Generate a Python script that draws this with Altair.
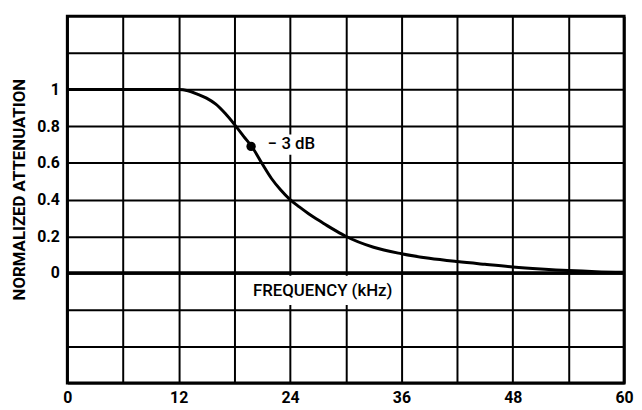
import altair as alt
import pandas as pd

# Curve data
freq_khz = [0, 12, 13, 14, 15, 16, 17, 18, 19, 20, 21, 22, 23, 24, 25, 26, 27,
            28, 29, 30, 33, 36, 39, 42, 45, 48, 51, 54, 57, 60]
atten = [1, 1, 0.993, 0.975, 0.953, 0.92, 0.87, 0.81, 0.745, 0.68, 0.595,
         0.515, 0.452, 0.40, 0.36, 0.323, 0.29, 0.258, 0.228, 0.20, 0.14,
         0.105, 0.08, 0.062, 0.047, 0.033, 0.022, 0.013, 0.007, 0.004]

# Grid / tick values
x_grid = [0, 6, 12, 18, 24, 30, 36, 42, 48, 54, 60]
y_grid = [-0.6, -0.4, -0.2, 0, 0.2, 0.4, 0.6, 0.8, 1, 1.2, 1.4]

# -3 dB point
pt_freq = [19.8]
pt_att = [0.69]

# Annotations
ann_text = ["FREQUENCY (kHz)", "\u2212 3 dB"]
ann_x = [20.0, 21.6]
ann_y = [-0.10, 0.70]
box_x1 = [18.4, 21.6]
box_x2 = [35.6, 27.0]
box_y1 = [-0.015, 0.645]
box_y2 = [-0.175, 0.755]

FONT = "Roboto, Liberation Sans, sans-serif"

curve = pd.DataFrame({"f": freq_khz, "a": atten})
pts = pd.DataFrame({"f": pt_freq, "a": pt_att})
ann = pd.DataFrame({"t": ann_text, "f": ann_x, "a": ann_y,
                    "x1": box_x1, "x2": box_x2, "y1": box_y1, "y2": box_y2})
zero = pd.DataFrame({"a": [0]})

xscale = alt.Scale(domain=[0, 60], nice=False, zero=False)
yscale = alt.Scale(domain=[-0.6, 1.4], nice=False, zero=False)

xaxis = alt.Axis(values=x_grid, tickCount=len(x_grid), title="", grid=True,
                 gridColor="black", gridWidth=2, gridOpacity=1, ticks=False,
                 domain=False, labelOverlap=False,
                 labelExpr="datum.value % 12 == 0 ? datum.label : ''",
                 labelFont=FONT, labelFontSize=16, labelFontWeight="bold",
                 labelColor="black", labelPadding=7, labelFlush=False)
yaxis = alt.Axis(values=y_grid, tickCount=len(y_grid),
                 title="NORMALIZED ATTENUATION", grid=True,
                 gridColor="black", gridWidth=2, gridOpacity=1, ticks=False,
                 domain=False, labelOverlap=False,
                 labelExpr="(datum.value > -0.01 && datum.value < 1.01) ? format(datum.value, '~g') : ''",
                 labelFont=FONT, labelFontSize=16, labelFontWeight="bold",
                 labelColor="black", labelPadding=8,
                 titleFont=FONT, titleFontSize=17, titleFontWeight="bold",
                 titleColor="black", titleX=-48, titleY=175,
                 titleBaseline="middle", titleAngle=270)

line = alt.Chart(curve).mark_line(color="black", strokeWidth=3,
                                  interpolate="monotone").encode(
    x=alt.X("f:Q", scale=xscale, axis=xaxis),
    y=alt.Y("a:Q", scale=yscale, axis=yaxis),
)

zero_rule = alt.Chart(zero).mark_rule(color="black", strokeWidth=3.5).encode(
    y=alt.Y("a:Q", scale=yscale)
)

boxes = alt.Chart(ann).mark_rect(color="white").encode(
    x=alt.X("x1:Q", scale=xscale), x2="x2:Q",
    y=alt.Y("y1:Q", scale=yscale), y2="y2:Q",
)

texts = alt.Chart(ann).mark_text(align="left", baseline="middle", font=FONT,
                                 fontSize=17, fontWeight=500,
                                 color="black").encode(
    x=alt.X("f:Q", scale=xscale),
    y=alt.Y("a:Q", scale=yscale),
    text="t:N",
)

dot = alt.Chart(pts).mark_point(filled=True, color="black", size=90,
                                opacity=1).encode(
    x=alt.X("f:Q", scale=xscale),
    y=alt.Y("a:Q", scale=yscale),
)

chart = alt.layer(boxes, zero_rule, line, dot, texts).properties(
    width=563, height=371,
    autosize=alt.AutoSizeParams(type="none"),
    padding={"left": 60, "top": 6, "right": 10, "bottom": 22},
    background="white",
).configure_view(stroke="black", strokeWidth=3)

chart.save("out.html", embed_options={"renderer": "svg", "actions": False})
